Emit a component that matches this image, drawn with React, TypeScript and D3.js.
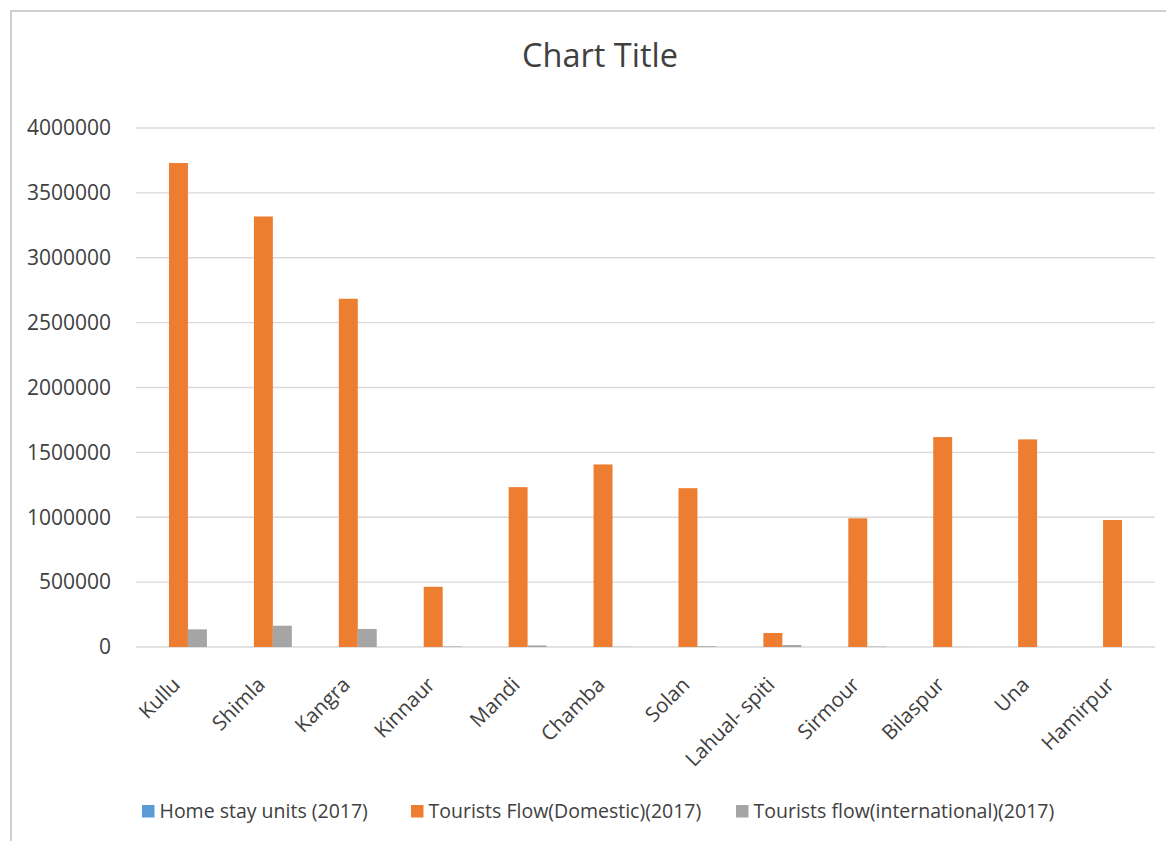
import React, { useEffect, useRef } from "react";
import * as d3 from "d3";

// District names (x-axis categories)
const districts = [
  "Kullu", "Shimla", "Kangra", "Kinnaur", "Mandi", "Chamba",
  "Solan", "Lahual- spiti", "Sirmour", "Bilaspur", "Una", "Hamirpur",
];

const seriesNames = [
  "Home stay units (2017)",
  "Tourists Flow(Domestic)(2017)",
  "Tourists flow(international)(2017)",
];

const homeStayUnits = [0, 0, 0, 0, 0, 0, 0, 0, 0, 0, 0, 0];
const domesticFlow = [
  3730000, 3318000, 2684000, 464000, 1232000, 1407000,
  1224000, 108000, 992000, 1618000, 1600000, 979000,
];
const internationalFlow = [
  136000, 164000, 139000, 4000, 12000, 1500,
  6000, 15000, 3000, 500, 300, 200,
];

const yTicks = [0, 500000, 1000000, 1500000, 2000000, 2500000, 3000000, 3500000, 4000000];

const seriesColors = ["#5B9BD5", "#ED7D31", "#A5A5A5"];

const W = 1166;
const H = 841;
const FONT = "'Open Sans', 'Noto Sans', sans-serif";

export default function App() {
  const ref = useRef<SVGSVGElement | null>(null);

  useEffect(() => {
    const svg = d3.select(ref.current);
    svg.selectAll("*").remove();

    const values = [homeStayUnits, domesticFlow, internationalFlow];
    const plot = { left: 136, right: 1155, top: 128, bottom: 647 };

    // chart area frame
    svg.append("rect")
      .attr("x", 11).attr("y", 11)
      .attr("width", W + 20).attr("height", H + 20)
      .attr("fill", "#fff")
      .attr("stroke", "#D0D0D0")
      .attr("stroke-width", 2);

    const x0 = d3.scaleBand<string>()
      .domain(districts)
      .range([plot.left, plot.right])
      .paddingInner(0.33)
      .paddingOuter(0.165);

    const x1 = d3.scaleBand<number>()
      .domain([0, 1, 2])
      .range([0, x0.bandwidth()]);

    const y = d3.scaleLinear()
      .domain([0, 4000000])
      .range([plot.bottom, plot.top]);

    // title
    svg.append("text")
      .attr("x", 600).attr("y", 67)
      .attr("text-anchor", "middle")
      .attr("font-family", FONT)
      .attr("font-size", 32.5)
      .attr("fill", "#404040")
      .text("Chart Title");

    // gridlines
    svg.append("g")
      .selectAll("line")
      .data(yTicks)
      .join("line")
      .attr("x1", plot.left).attr("x2", plot.right)
      .attr("y1", (d) => y(d)).attr("y2", (d) => y(d))
      .attr("stroke", "#D9D9D9")
      .attr("stroke-width", 1.3);

    // y tick labels
    svg.append("g")
      .selectAll("text")
      .data(yTicks)
      .join("text")
      .attr("x", 111)
      .attr("y", (d) => y(d))
      .attr("dy", "0.35em")
      .attr("text-anchor", "end")
      .attr("font-family", FONT)
      .attr("font-size", 21)
      .attr("fill", "#404040")
      .text((d) => String(d));

    // bars
    const groups = svg.append("g")
      .selectAll("g")
      .data(districts)
      .join("g")
      .attr("transform", (d) => `translate(${x0(d)},0)`);

    groups.selectAll("rect")
      .data((_, i) => values.map((s, k) => ({ k, v: s[i] })))
      .join("rect")
      .attr("x", (d) => x1(d.k) as number)
      .attr("width", x1.bandwidth())
      .attr("y", (d) => y(d.v))
      .attr("height", (d) => plot.bottom - y(d.v))
      .attr("fill", (d) => seriesColors[d.k]);

    // x category labels, rotated
    svg.append("g")
      .selectAll("text")
      .data(districts)
      .join("text")
      .attr("transform", (d) => {
        const cx = (x0(d) as number) + x0.bandwidth() / 2 + 3;
        return `translate(${cx},${686}) rotate(-45)`;
      })
      .attr("text-anchor", "end")
      .attr("font-family", FONT)
      .attr("font-size", 20.5)
      .attr("fill", "#404040")
      .text((d) => d);

    // legend
    const legendX = [142, 411, 736];
    const legend = svg.append("g")
      .selectAll("g")
      .data(seriesNames)
      .join("g")
      .attr("transform", (_, i) => `translate(${legendX[i]},0)`);
    legend.append("rect")
      .attr("x", 0).attr("y", 805)
      .attr("width", 12.5).attr("height", 12.5)
      .attr("fill", (_, i) => seriesColors[i]);
    legend.append("text")
      .attr("x", 17.5).attr("y", 818)
      .attr("font-family", FONT)
      .attr("font-size", 19.5)
      .attr("fill", "#404040")
      .text((d) => d);
  }, []);

  return (
    <svg
      ref={ref}
      width={W}
      height={H}
      style={{ position: "absolute", left: 0, top: 0, display: "block", background: "#fff" }}
    />
  );
}
